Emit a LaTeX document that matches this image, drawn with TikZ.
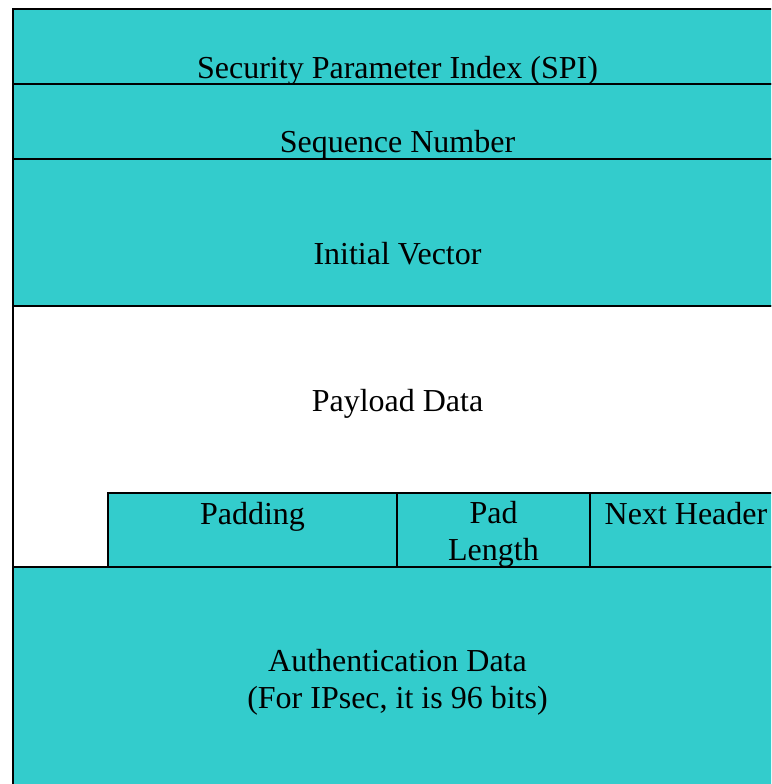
\documentclass[tikz,border=0pt]{standalone}
\usepackage{fontspec}
\setmainfont{Liberation Serif}
\definecolor{espcyan}{RGB}{51,204,204}
\begin{document}
\begin{tikzpicture}[x=1pt,y=-1pt,line width=2pt,
	field/.style={draw=black, fill=espcyan},
	emptyfield/.style={draw=black},
	fieldtext/.style={font=\fontsize{32}{36.8}\selectfont, anchor=base, align=center, inner sep=0pt}]
	\useasboundingbox (0,0) rectangle (771,784);
	\clip (0,0) rectangle (771,784);
	% Fields
	\path[field] (13,9) rectangle (782,84);
	\path[field] (13,84) rectangle (782,159);
	\path[field] (13,159) rectangle (782,306);
	\path[emptyfield] (13,306) rectangle (782,567);
	\path[field] (108,493) rectangle (397,567);
	\path[field] (397,493) rectangle (590,567);
	\path[field] (590,493) rectangle (782,567);
	\path[field] (13,567) rectangle (782,810);
	
	% Labels (base = last line)
	\node[fieldtext] (spi) at (397.5,78) {Security Parameter Index (SPI)};
	\node[fieldtext] (seq) at (397.5,152) {Sequence Number};
	\node[fieldtext] (iv) at (397.5,264) {Initial Vector};
	\node[fieldtext] (payload) at (397.5,411) {Payload Data};
	\node[fieldtext] (pad) at (252.5,524) {Padding};
	\node[fieldtext] (padlen) at (493.5,560) {Pad\\Length};
	\node[fieldtext] (next) at (686,524) {Next Header};
	\node[fieldtext] (auth) at (397.5,708) {Authentication Data\\(For IPsec, it is 96 bits)};
\end{tikzpicture}
\end{document}
